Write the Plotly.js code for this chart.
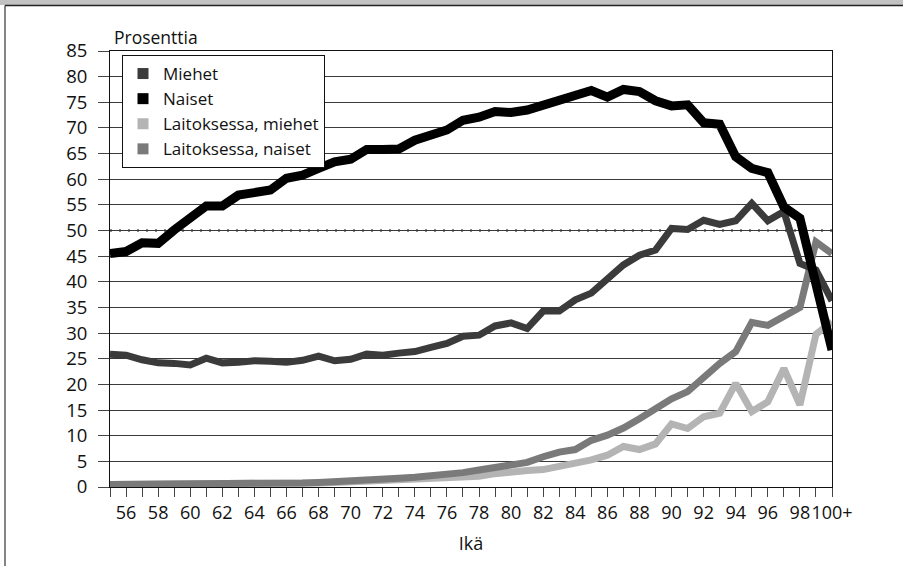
<!DOCTYPE html>
<html>
<head>
<meta charset="utf-8">
<script src="https://cdn.plot.ly/plotly-3.0.1.min.js"></script>
<style>html,body{margin:0;padding:0;background:#fff;}#chart{width:903px;height:566px;}</style>
</head>
<body>
<div id="chart"></div>
<script>
// Ages (categories)
const ages = ["55","56","57","58","59","60","61","62","63","64","65","66","67","68","69","70","71","72","73","74","75","76","77","78","79","80","81","82","83","84","85","86","87","88","89","90","91","92","93","94","95","96","97","98","99","100+"];
// Tick labels (every second age)
const tickLabels = ["","56","","58","","60","","62","","64","","66","","68","","70","","72","","74","","76","","78","","80","","82","","84","","86","","88","","90","","92","","94","","96","","98","","100+"];

// Series values (percent)
const miehet = [25.9,25.7,24.8,24.2,24.1,23.8,25.1,24.2,24.3,24.6,24.5,24.3,24.7,25.5,24.6,24.9,25.9,25.7,26.1,26.4,27.2,28.0,29.4,29.6,31.4,32.0,30.9,34.3,34.3,36.5,37.8,40.4,43.3,45.2,46.2,50.4,50.2,52.0,51.2,51.9,55.3,51.9,53.7,43.6,42.3,36.3];
const naiset = [45.5,45.9,47.6,47.5,50.1,52.4,54.8,54.8,56.9,57.4,57.9,60.2,60.8,62.1,63.4,63.9,65.8,65.8,65.9,67.6,68.5,69.6,71.5,72.1,73.2,73.0,73.5,74.5,75.1,76.4,77.3,76.0,77.5,77.1,75.3,74.3,74.5,71.0,70.7,64.4,62.1,61.3,54.6,52.4,39.5,26.7];
const laitosMiehet = [0.5,0.5,0.5,0.5,0.5,0.5,0.5,0.5,0.6,0.6,0.6,0.6,0.7,0.8,0.9,1.0,1.1,1.2,1.3,1.4,1.5,1.7,1.9,2.1,2.6,3.0,3.2,3.4,4.0,4.4,5.3,6.2,7.9,7.3,8.4,12.3,11.4,13.7,14.4,20.2,14.7,16.6,23.1,16.0,29.8,32.2];
const laitosNaiset = [0.5,0.5,0.5,0.5,0.5,0.6,0.6,0.6,0.6,0.6,0.7,0.7,0.8,0.9,1.0,1.1,1.3,1.5,1.7,1.9,2.1,2.4,2.8,3.3,3.8,4.4,4.8,5.9,6.8,7.3,9.1,10.1,11.5,13.3,15.2,17.2,18.6,21.5,24.1,26.4,32.1,31.5,33.3,35.0,47.8,45.5];

const seriesNames = ["Miehet","Naiset","Laitoksessa, miehet","Laitoksessa, naiset"];
const colors = {miehet:"#3b3b3b", naiset:"#000000", lm:"#b4b4b4", ln:"#7a7a7a"};
const yTicks = [0,5,10,15,20,25,30,35,40,45,50,55,60,65,70,75,80,85];

const FONT = "Open Sans, Noto Sans, sans-serif";

const traces = [
  {x: ages, y: laitosMiehet, mode: "lines", line: {color: colors.lm, width: 7}, showlegend: false, hoverinfo: "skip"},
  {x: ages, y: laitosNaiset, mode: "lines", line: {color: colors.ln, width: 7}, showlegend: false, hoverinfo: "skip"},
  {x: ages, y: miehet, mode: "lines", line: {color: colors.miehet, width: 7}, showlegend: false, hoverinfo: "skip"},
  {x: ages, y: naiset, mode: "lines", line: {color: colors.naiset, width: 9}, showlegend: false, hoverinfo: "skip"},
  // legend-only entries with square swatches
  {x: [null], y: [null], mode: "markers", name: seriesNames[0], marker: {symbol: "square", size: 11, color: colors.miehet}},
  {x: [null], y: [null], mode: "markers", name: seriesNames[1], marker: {symbol: "square", size: 11, color: colors.naiset}},
  {x: [null], y: [null], mode: "markers", name: seriesNames[2], marker: {symbol: "square", size: 11, color: colors.lm}},
  {x: [null], y: [null], mode: "markers", name: seriesNames[3], marker: {symbol: "square", size: 11, color: colors.ln}}
];

const L = 110, R = 832, T = 51, B = 487, W = 903, H = 566;
const px = p => (p - L) / (R - L);
const py = p => (B - p) / (B - T);

const layout = {
  width: W, height: H,
  margin: {l: L, r: W - R, t: T, b: H - B, pad: 0},
  paper_bgcolor: "#ffffff",
  plot_bgcolor: "#ffffff",
  font: {family: FONT, size: 17, color: "#111"},
  showlegend: true,
  legend: {
    x: px(122), y: py(55), xanchor: "left", yanchor: "top",
    bgcolor: "#ffffff", bordercolor: "#111", borderwidth: 1,
    font: {family: FONT, size: 17, color: "#111"},
    traceorder: "normal", itemwidth: 30
  },
  xaxis: {
    type: "category",
    range: [0, ages.length - 1],
    tickmode: "array", tickvals: ages, ticktext: tickLabels,
    tickangle: 0,
    ticks: "outside", ticklen: 9, tickcolor: "#444", tickwidth: 1,
    showline: true, linecolor: "#111", linewidth: 1, mirror: true,
    showgrid: false, zeroline: false,
    tickfont: {family: FONT, size: 18, color: "#111"},
    title: {text: "Ikä", font: {family: FONT, size: 18, color: "#111"}, standoff: 14}
  },
  yaxis: {
    range: [0, 85],
    tickmode: "array", tickvals: yTicks,
    ticks: "outside", ticklen: 11, tickcolor: "#444", tickwidth: 1,
    ticklabelstandoff: 7,
    showline: true, linecolor: "#111", linewidth: 1, mirror: true,
    showgrid: true, gridcolor: "#3a3a3a", gridwidth: 1, zeroline: false,
    tickfont: {family: FONT, size: 18.5, color: "#111"}
  },
  annotations: [
    {text: "Prosenttia", xref: "paper", yref: "paper", x: px(112), y: py(37), xanchor: "left", yanchor: "middle", showarrow: false, font: {family: FONT, size: 17.5, color: "#111"}}
  ],
  shapes: [
    {type: "line", xref: "paper", yref: "y", x0: 0, x1: 1, y0: 50, y1: 50, line: {color: "#ffffff", width: 3}, layer: "below"},
    {type: "line", xref: "paper", yref: "y", x0: 0, x1: 1, y0: 50, y1: 50, line: {color: "#111", width: 2, dash: "2px,7px"}, layer: "below"},
    {type: "rect", xref: "paper", yref: "paper", x0: px(0), x1: px(W), y0: py(5), y1: py(0), fillcolor: "#c2c2c2", line: {width: 0}},
    {type: "line", xref: "paper", yref: "paper", x0: px(5), x1: px(W), y0: py(5.5), y1: py(5.5), line: {color: "#222", width: 1.5}},
    {type: "line", xref: "paper", yref: "paper", x0: px(5), x1: px(5), y0: py(5.5), y1: py(H), line: {color: "#333", width: 1.2}}
  ]
};

Plotly.newPlot("chart", traces, layout, {staticPlot: true, displayModeBar: false});
</script>
</body>
</html>
